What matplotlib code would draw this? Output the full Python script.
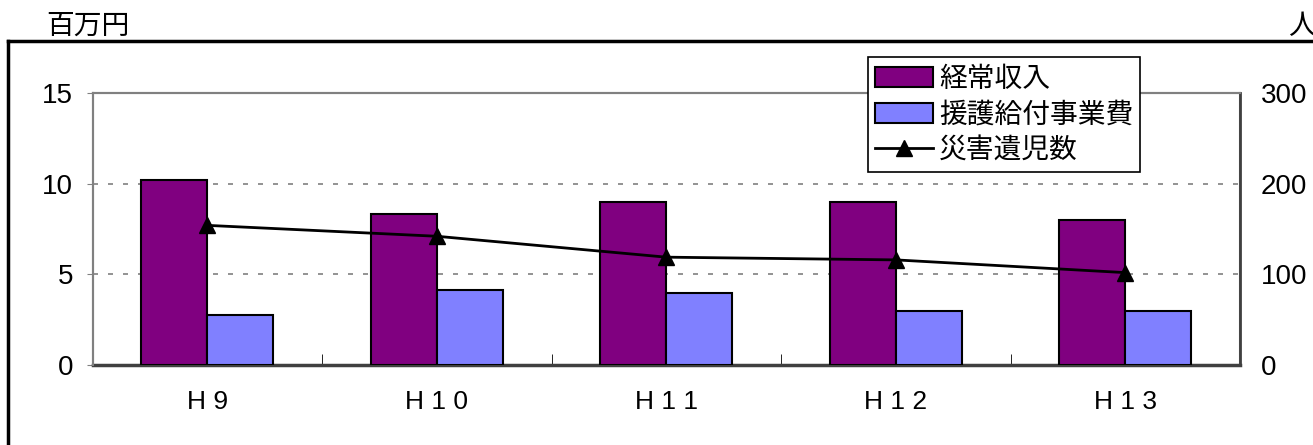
import numpy as np
import matplotlib.pyplot as plt
from matplotlib.lines import Line2D

plt.rcParams['font.family'] = ['Liberation Sans', 'Noto Sans CJK JP', 'DejaVu Sans']

years = ['H 9', 'H 1 0', 'H 1 1', 'H 1 2', 'H 1 3']
income = [10.2, 8.3, 9.0, 9.0, 8.0]      # 経常収入 (百万円)
benefit = [2.75, 4.15, 4.0, 3.0, 3.0]    # 援護給付事業費 (百万円)
orphans = [154, 142, 119, 116, 102]      # 災害遺児数 (人)

fig = plt.figure(figsize=(13.13, 4.45), dpi=100)
ax = fig.add_axes([0.0705, 0.1791, 0.8739, 0.6126])
ax2 = ax.twinx()

x = np.arange(len(years))
w = 0.2876
b1 = ax.bar(x - w / 2, income, w, color='#800080', edgecolor='black', linewidth=1.5,
            label='経常収入', zorder=3)
b2 = ax.bar(x + w / 2, benefit, w, color='#8080FF', edgecolor='black', linewidth=1.5,
            label='援護給付事業費', zorder=3)
ln, = ax2.plot(x, orphans, color='black', linewidth=2, marker='^', markersize=11,
               label='災害遺児数', zorder=4)

ax.set_xlim(-0.5, len(years) - 0.5)
ax.set_ylim(0, 15)
ax2.set_ylim(0, 300)
ax.set_yticks([0, 5, 10, 15])
ax2.set_yticks([0, 100, 200, 300])

ax.yaxis.grid(True, color='#808080', linestyle=(0, (3, 6)), linewidth=1.2)
ax.set_axisbelow(True)

ax.set_xticks(x)
ax.set_xticklabels(years, fontsize=19)
ax.set_xticks(np.arange(-0.5, len(years)), minor=True)
ax.tick_params(axis='x', which='major', length=0, pad=18)
ax.tick_params(axis='x', which='minor', direction='in', length=8, color='black')
ax.tick_params(axis='y', length=4, color='#808080', labelsize=20, pad=10)
ax2.tick_params(axis='y', length=0, labelsize=20, pad=15)

for a in (ax, ax2):
    for s in a.spines.values():
        s.set_color('#808080')
        s.set_linewidth(1.5)
ax.spines['bottom'].set_color('#404040')
ax.spines['bottom'].set_linewidth(2.5)
ax2.spines['bottom'].set_visible(False)
ax2.spines['right'].set_color('#404040')
ax2.spines['right'].set_linewidth(2)

leg = ax2.legend([b1, b2, ln], ['経常収入', '援護給付事業費', '災害遺児数'],
                 loc='upper left', bbox_to_anchor=(868 / 1313, 1 - 57 / 445),
                 bbox_transform=fig.transFigure, fontsize=20, frameon=True,
                 fancybox=False, edgecolor='black', framealpha=1,
                 handlelength=2.1, handleheight=0.75, handletextpad=0.2,
                 labelspacing=0.2, borderpad=0.25, borderaxespad=0)
leg.get_frame().set_linewidth(1.2)
for t in leg.get_texts():
    t.set_family(['Noto Sans CJK JP'])

# outer chart frame (left and top edges)
fig.add_artist(Line2D([8 / 1313, 8 / 1313], [0, 1 - 41 / 445], color='black', linewidth=2.5))
fig.add_artist(Line2D([8 / 1313, 1], [1 - 41 / 445, 1 - 41 / 445], color='black', linewidth=2.5))
fig.text(46 / 1313, 1 - 41 / 445, '百万円', fontsize=20, family=['Noto Sans CJK JP'],
         ha='left', va='bottom')
fig.text(1288 / 1313, 1 - 41 / 445, '人', fontsize=20, family=['Noto Sans CJK JP'],
         ha='left', va='bottom')

fig.savefig('out.png', dpi=100)
